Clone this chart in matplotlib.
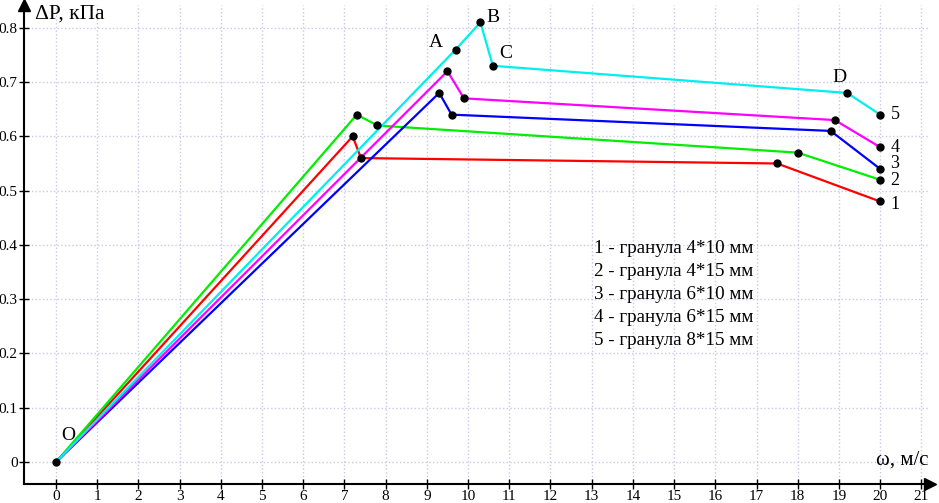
import matplotlib
matplotlib.use("Agg")
import matplotlib.pyplot as plt

# скорость, м/с и перепад давления, кПа
x1 = [0, 7.2, 7.4, 17.5, 20]
y1 = [0, 0.60, 0.56, 0.55, 0.48]
x2 = [0, 7.3, 7.8, 18.0, 20]
y2 = [0, 0.64, 0.62, 0.57, 0.52]
x3 = [0, 9.3, 9.6, 18.8, 20]
y3 = [0, 0.68, 0.64, 0.61, 0.54]
x4 = [0, 9.5, 9.9, 18.9, 20]
y4 = [0, 0.72, 0.67, 0.63, 0.58]
x5 = [0, 9.7, 10.3, 10.6, 19.2, 20]
y5 = [0, 0.76, 0.81, 0.73, 0.68, 0.64]

legend_lines = ["1 - гранула 4*10 мм", "2 - гранула 4*15 мм", "3 - гранула 6*10 мм",
                "4 - гранула 6*15 мм", "5 - гранула 8*15 мм"]
x_ticks = list(range(0, 22))
y_ticks = [0, 0.1, 0.2, 0.3, 0.4, 0.5, 0.6, 0.7, 0.8]
y_ticklabels = ["0", "0.1", "0.2", "0.3", "0.4", "0.5", "0.6", "0.7", "0.8"]
end_label_y = [0.475, 0.518, 0.55, 0.58, 0.64]

plt.rcParams['font.family'] = ['Liberation Serif', 'DejaVu Serif']

fig = plt.figure(figsize=(9.39, 5.03), dpi=100)
ax = fig.add_axes([24/939, 19/503, 906/939, 479/503])
ax.set_xlim(-0.777, 21.21)
ax.set_ylim(-0.0405, 0.842)

ax.set_xticks(x_ticks)
ax.set_xticklabels([str(t) for t in x_ticks], fontsize=11)
ax.set_yticks(y_ticks)
ax.set_yticklabels(y_ticklabels, fontsize=11)
ax.tick_params(direction='inout', length=7, width=1, pad=1)
ax.grid(True, color='#c8c8e8', linestyle=':', linewidth=1)
ax.set_axisbelow(True)

for s in ['top', 'right']:
    ax.spines[s].set_visible(False)
for s in ['left', 'bottom']:
    ax.spines[s].set_linewidth(1.5)

# стрелки на осях
ax.plot(0, 1, marker='^', color='black', ms=8, transform=ax.transAxes, clip_on=False)
ax.plot(1, 0, marker='>', color='black', ms=8, transform=ax.transAxes, clip_on=False)

series = [(x1, y1, '#ff0000'), (x2, y2, '#00ee00'), (x3, y3, '#0000ff'),
          (x4, y4, '#ff00ff'), (x5, y5, '#00eeee')]
for xs, ys, c in series:
    ax.plot(xs, ys, color=c, lw=1.6, zorder=3)
    ax.plot(xs[1:], ys[1:], 'o', color='black', ms=5, zorder=4)
ax.plot(0, 0, 'o', color='black', ms=5, zorder=4)

ax.text(0.12, 0.04, "O", fontsize=14)
ax.text(9.05, 0.765, "A", fontsize=14)
ax.text(10.45, 0.81, "B", fontsize=14)
ax.text(10.75, 0.745, "C", fontsize=14)
ax.text(18.85, 0.7, "D", fontsize=14)
for i, ly in enumerate(end_label_y):
    ax.text(20.25, ly, str(i + 1), fontsize=13, va='center')

for i, t in enumerate(legend_lines):
    ax.text(13.05, 0.394 - i * 0.0425, t, fontsize=13.7, va='center')

ax.text(0.012, 1.0, "ΔP, кПа", fontsize=15.5, transform=ax.transAxes, va='top')
ax.text(0.998, 0.04, "ω, м/с", fontsize=15, transform=ax.transAxes, ha='right')

fig.savefig("out.png", dpi=100)
